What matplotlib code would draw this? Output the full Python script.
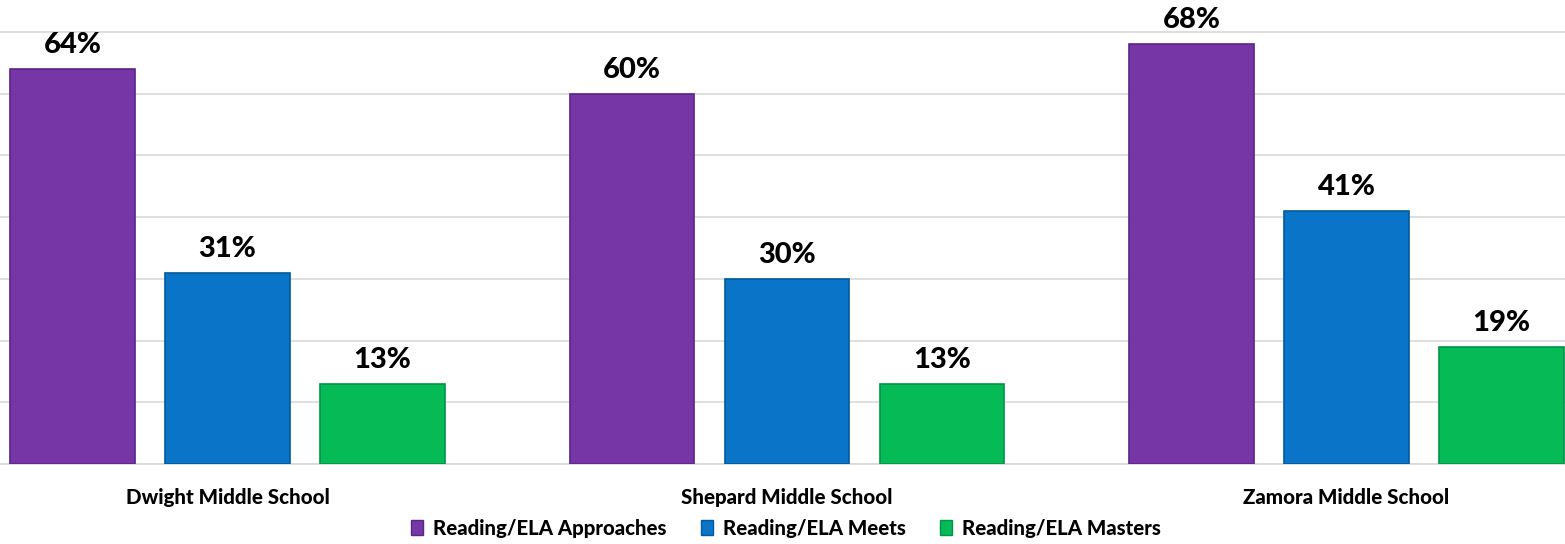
import matplotlib
matplotlib.use("Agg")
from matplotlib import pyplot as plt
from matplotlib.patches import Patch
import numpy as np

schools = ["Dwight Middle School", "Shepard Middle School", "Zamora Middle School"]
series_names = ["Reading/ELA Approaches", "Reading/ELA Meets", "Reading/ELA Masters"]
approaches = [64, 60, 68]
meets = [31, 30, 41]
masters = [13, 13, 19]

colors = ["#7636A6", "#0A74C8", "#06BA56"]
edges = ["#5a2585", "#005a9c", "#00934a"]

plt.rcParams['font.family'] = ['Lato', 'DejaVu Sans']

fig = plt.figure(figsize=(15.65, 5.44), dpi=100)
ax = fig.add_axes([0, 80 / 544, 1, 464 / 544])

x = np.arange(len(schools))
step = 0.277
width = 0.222
for i, (vals, name) in enumerate(zip([approaches, meets, masters], series_names)):
    pos = x + (i - 1) * step
    bars = ax.bar(pos, vals, width, color=colors[i], edgecolor=edges[i], linewidth=1.2, zorder=3, label=name)
    for b, v in zip(bars, vals):
        ax.annotate(f"{v}%", (b.get_x() + b.get_width() / 2, v), xytext=(0, 8), textcoords="offset points",
                    ha="center", va="bottom", fontsize=21, fontweight="black", color="black")

ax.set_xlim(-0.4066, 2.3905)
ax.set_ylim(0, 75.2)
ax.set_yticks(np.arange(0, 80, 10))
ax.yaxis.grid(True, color="#d9d9d9", linewidth=1.2, zorder=0)
ax.tick_params(axis="y", left=False, labelleft=False)
ax.set_xticks(x)
ax.set_xticklabels(schools, fontsize=14.8, fontweight="black")
ax.tick_params(axis="x", length=0, pad=17)
for s in ["top", "right", "left"]:
    ax.spines[s].set_visible(False)
ax.spines["bottom"].set_color("#d9d9d9")
ax.spines["bottom"].set_linewidth(1.2)

handles = [Patch(facecolor=c, edgecolor=e, label=n) for c, e, n in zip(colors, edges, series_names)]
fig.legend(handles=handles, loc="center", bbox_to_anchor=(786 / 1565, 16 / 544), ncol=3, frameon=False,
           prop={"size": 14.7, "weight": "black"}, handlelength=0.6, handleheight=0.7, handletextpad=0.5,
           columnspacing=1.65)

fig.savefig("out.png", dpi=100)
